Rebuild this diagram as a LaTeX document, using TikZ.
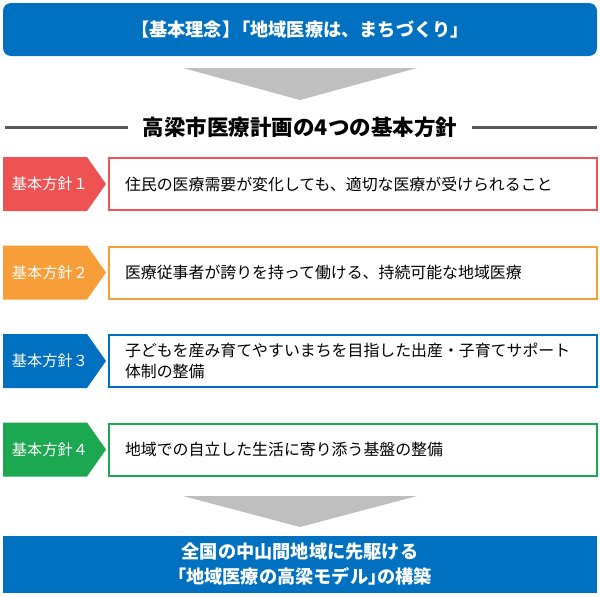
\documentclass[tikz,border=0pt]{standalone}
\usepackage{fontspec}
\newfontfamily\cjk{Noto Sans CJK JP}
\definecolor{blueM}{RGB}{0,112,192}
\definecolor{redM}{RGB}{238,82,83}
\definecolor{orangeM}{RGB}{247,158,56}
\definecolor{greenM}{RGB}{28,168,80}
\definecolor{grayA}{RGB}{191,191,191}
\definecolor{lineG}{RGB}{89,89,89}
\begin{document}
\begin{tikzpicture}[x=1pt,y=-1pt,
  every node/.style={inner sep=0pt, outer sep=0pt},
  banner/.style={fill=blueM, text=white, minimum width=594pt, align=center,
    font=\cjk\bfseries\fontsize{18.2}{25}\selectfont},
  titletext/.style={font=\cjk\bfseries\fontsize{21.5}{24}\selectfont, text=black},
  titleline/.style={draw=lineG, line width=3pt},
  bigarrow/.style={fill=grayA},
  lab/.style={text=white, font=\cjk\fontsize{15.2}{18}\selectfont},
  boxframe/.style={draw=#1, line width=2pt, fill=white, minimum width=488pt, minimum height=52pt},
  boxtext/.style={anchor=west, align=left, text=black, font=\cjk\fontsize{15.9}{21}\selectfont},
]
\useasboundingbox (0,0) rectangle (600,597);

% top banner
\node[banner, rounded corners=8pt, minimum height=53pt] (top) at (300,29.5) {【基本理念】\kern-0.45em「地域医療は、まちづくり」};

% first gray arrow
\fill[bigarrow] (183,68) -- (417,68) -- (300,100) -- cycle;

% title
\node[titletext] (title) at (300,127) {高梁市医療計画の4つの基本方針};
\coordinate (tl) at (5,127);
\coordinate (tr) at (597,127);
\draw[titleline] (tl) -- ([xshift=-15pt]title.west);
\draw[titleline] ([xshift=15pt]title.east) -- (tr);

% rows
\newcommand{\policyrow}[5]{%
  \fill[#2] (3,#3-27) -- (87,#3-27) -- (106,#3) -- (87,#3+27) -- (3,#3+27) -- cycle;
  \node[lab] (lab#1) at (50,#3) {基本方針#4};
  \node[boxframe=#2] (box#1) at (353,#3) {};
  \node[boxtext] (txt#1) at (125,#3) {#5};
}
\policyrow{1}{redM}{184}{１}{住民の医療需要が変化しても、適切な医療が受けられること}
\policyrow{2}{orangeM}{272.5}{２}{医療従事者が誇りを持って働ける、持続可能な地域医療}
\policyrow{3}{blueM}{361}{３}{子どもを産み育てやすいまちを目指した出産・子育てサポート\\体制の整備}
\policyrow{4}{greenM}{449.5}{４}{地域での自立した生活に寄り添う基盤の整備}

% second gray arrow
\fill[bigarrow] (183,496) -- (417,496) -- (300,527) -- cycle;

% bottom banner
\node[banner, minimum height=57pt] (bottom) at (300,564.5) {全国の中山間地域に先駆ける\\「地域医療の高梁モデル」\kern-0.5em の構築};
\end{tikzpicture}
\end{document}
